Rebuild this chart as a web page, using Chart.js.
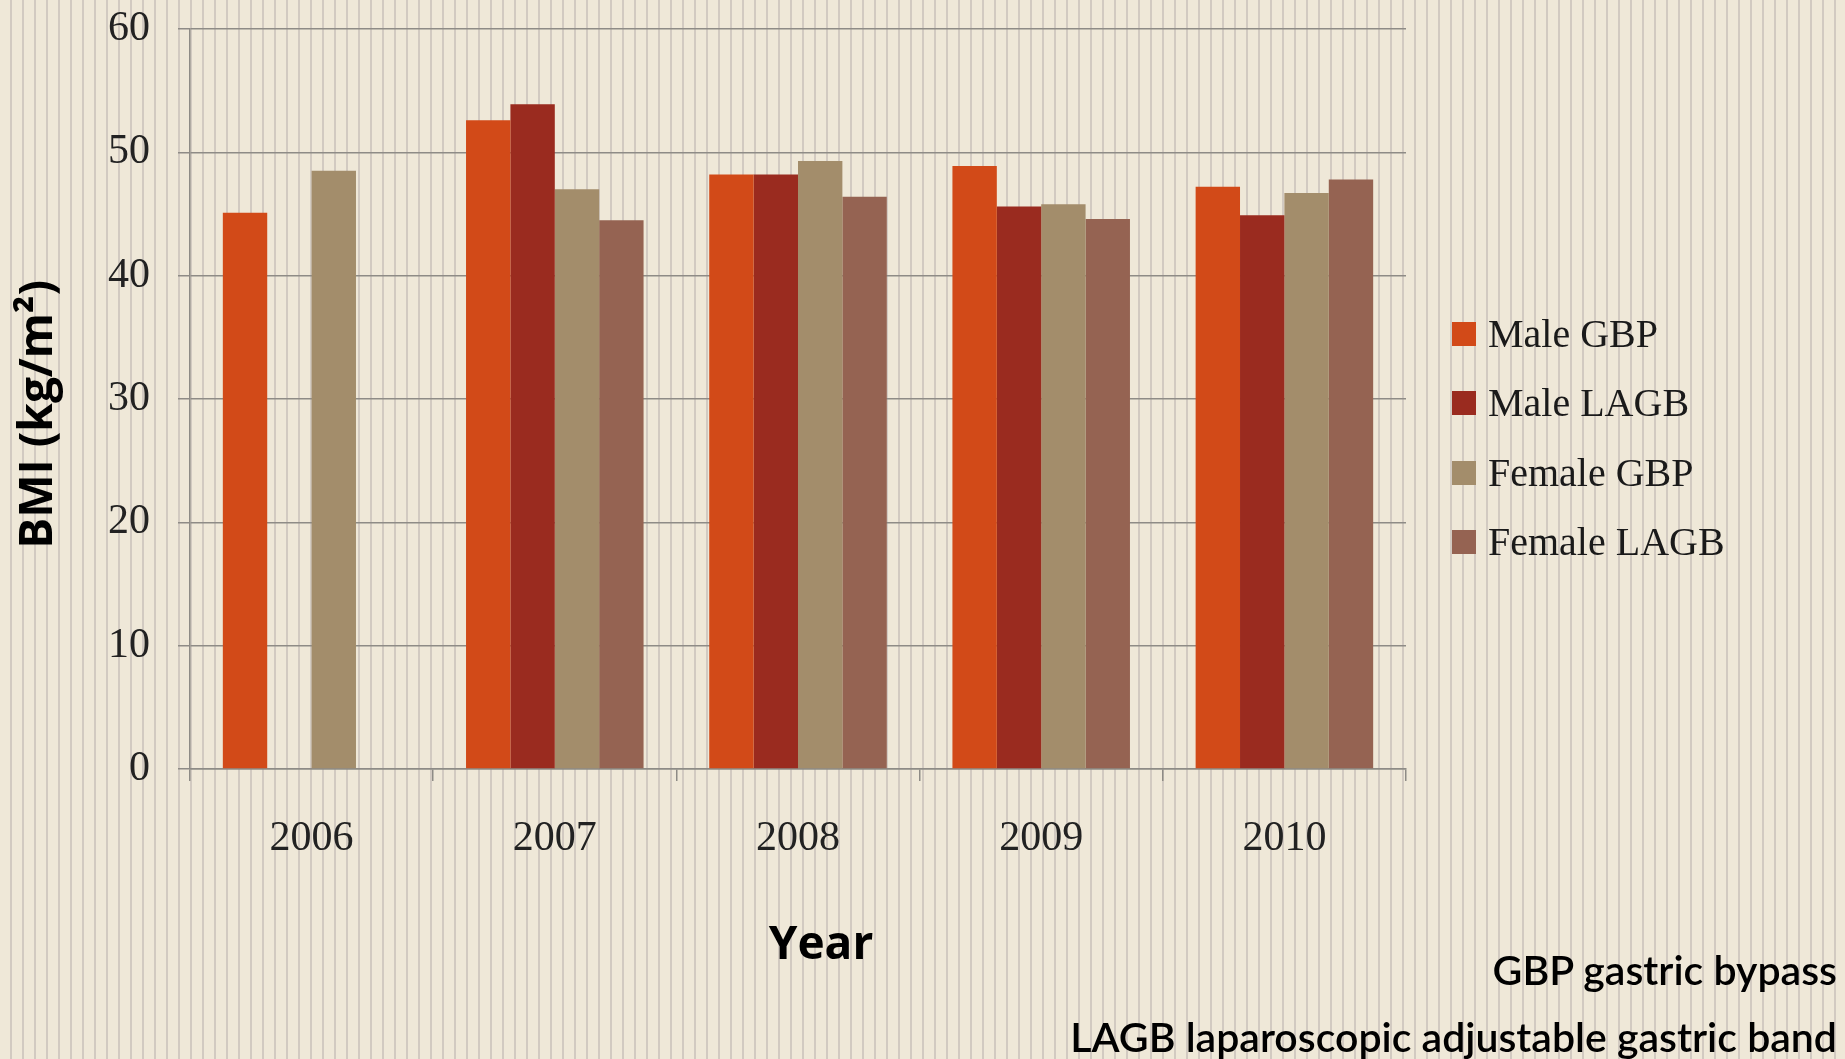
<!DOCTYPE html>
<html>
<head>
<meta charset="utf-8">
<title>BMI by year</title>
<script src="https://cdn.jsdelivr.net/npm/chart.js@4.4.1/dist/chart.umd.min.js"></script>
<style>
  html, body { margin: 0; padding: 0; }
  body {
    width: 1845px;
    height: 1059px;
    overflow: hidden;
    position: relative;
    background-color: #EFE8D8;
    background-image: linear-gradient(to right, transparent 10px, #D2CAC1 10px, #D2CAC1 12px, transparent 12px);
    background-size: 12px 100%;
  }
  #wrap { position: absolute; left: 0; top: 0; width: 1845px; height: 1059px; }
  #legend { position: absolute; left: 1452px; top: 0; }
  .item { position: absolute; left: 0; height: 40px; white-space: nowrap;
          font-family: "Liberation Serif", serif; font-size: 40px; color: #1a1a1a; line-height: 40px; }
  .box { position: absolute; left: 0; top: 8px; width: 24px; height: 24px; }
  .item span.lbl { position: absolute; left: 36px; top: 0; }
  #note { position: absolute; right: 8px; top: 936px; text-align: right;
          font-family: Lato, sans-serif; font-weight: 600; font-size: 41px; line-height: 67px; color: #000; }
</style>
</head>
<body>
<div id="wrap"><canvas id="bmiChart" width="1845" height="1059"></canvas></div>
<div id="legend"></div>
<div id="note">GBP gastric bypass<br>LAGB laparoscopic adjustable gastric band</div>
<script>
// Chart data
const years = ['2006', '2007', '2008', '2009', '2010'];
const maleGBP = [45.1, 52.6, 48.2, 48.9, 47.2];
const maleLAGB = [null, 53.9, 48.2, 45.6, 44.9];
const femaleGBP = [48.5, 47.0, 49.3, 45.8, 46.7];
const femaleLAGB = [null, 44.5, 46.4, 44.6, 47.8];
const seriesNames = ['Male GBP', 'Male LAGB', 'Female GBP', 'Female LAGB'];
const seriesColors = ['#D24A18', '#9A2B1F', '#A38D6B', '#956352'];
const yMin = 0;
const yMax = 60;
const yStep = 10;

const seriesValues = [maleGBP, maleLAGB, femaleGBP, femaleLAGB];
const gridColor = '#8E8B86';

// Legend, built from the same series lists
const legendEl = document.getElementById('legend');
seriesNames.forEach((name, i) => {
  const item = document.createElement('div');
  item.className = 'item';
  item.style.top = (314 + i * 69.3) + 'px';
  item.innerHTML = '<div class="box" style="background:' + seriesColors[i] + '"></div><span class="lbl">' + name + '</span>';
  legendEl.appendChild(item);
});

const ctx = document.getElementById('bmiChart').getContext('2d');
new Chart(ctx, {
  type: 'bar',
  data: {
    labels: years,
    datasets: seriesNames.map((name, i) => ({
      label: name,
      data: seriesValues[i],
      backgroundColor: seriesColors[i],
      borderWidth: 0,
      barPercentage: 1.0,
      categoryPercentage: 0.73
    }))
  },
  options: {
    responsive: false,
    animation: false,
    layout: {
      padding: { top: 29, right: 439, bottom: 0, left: 0 }
    },
    plugins: {
      legend: { display: false },
      tooltip: { enabled: false }
    },
    scales: {
      x: {
        offset: true,
        grid: {
          display: true,
          drawOnChartArea: false,
          drawTicks: true,
          tickLength: 12,
          color: gridColor,
          lineWidth: 1.5
        },
        border: { display: true, color: gridColor, width: 1.5 },
        ticks: {
          padding: 33,
          color: '#222',
          font: { family: '"Liberation Serif", serif', size: 42 }
        },
        title: {
          display: true,
          text: '\u2003Year',
          color: '#000',
          font: { family: '"Open Sans", sans-serif', size: 46, weight: 'bold' },
          padding: { top: 0, bottom: 86 }
        },
        afterFit: scale => { scale.height = 1059 - 769; }
      },
      y: {
        min: yMin,
        max: yMax,
        ticks: {
          stepSize: yStep,
          padding: 28,
          color: '#222',
          font: { family: '"Liberation Serif", serif', size: 42 }
        },
        grid: {
          color: gridColor,
          lineWidth: 1.5,
          tickLength: 12
        },
        border: { display: true, color: gridColor, width: 1.5 },
        title: {
          display: true,
          text: 'BMI (kg/m\u00B2)\u2002\u2009',
          color: '#000',
          font: { family: '"Open Sans", sans-serif', size: 46, weight: 'bold' },
          padding: { top: 11, bottom: 0 }
        },
        afterFit: scale => {
          scale.width = 190;
          // keep the top of the plot at the layout padding, the "60" label may overflow it
          scale.paddingTop = 0;
        }
      }
    }
  }
});
</script>
</body>
</html>
